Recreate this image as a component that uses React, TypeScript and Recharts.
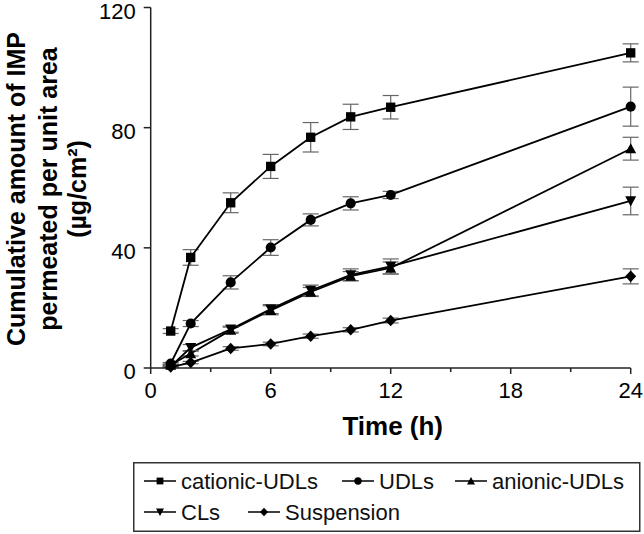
import React from 'react';
import { ComposedChart, Line, XAxis, YAxis, ErrorBar } from 'recharts';

// sampling times (h)
const times = [1, 2, 4, 6, 8, 10, 12, 24];

// cumulative amount (µg/cm²) and SD
const cationicUDLs = [12.3, 36.8, 55.0, 67.1, 76.8, 83.6, 86.8, 104.9];
const cationicErr = [0.8, 2.6, 3.3, 4.0, 4.9, 4.2, 3.9, 3.0];
const udls = [1.5, 14.8, 28.5, 40.1, 49.3, 54.8, 57.6, 87.0];
const udlsErr = [0.3, 1.0, 2.2, 2.6, 2.0, 2.2, 1.2, 6.5];
const anionicUDLs = [1.0, 4.8, 12.6, 19.2, 25.3, 30.6, 33.3, 73.0];
const anionicErr = [0.3, 0.8, 1.0, 1.5, 1.5, 1.5, 2.0, 3.8];
const cls = [0.5, 6.8, 12.9, 19.6, 25.8, 31.0, 33.8, 55.6];
const clsErr = [0.3, 1.0, 1.0, 1.5, 1.8, 2.0, 2.5, 4.6];
const suspension = [0.3, 1.8, 6.5, 8.0, 10.6, 12.7, 15.8, 30.5];
const suspensionErr = [0.2, 0.4, 0.6, 0.6, 0.7, 0.7, 0.8, 2.5];

const xTicks = [0, 3, 6, 9, 12, 15, 18, 21, 24];
const xLabelled = [0, 6, 12, 18, 24];
const yTicks = [0, 40, 80, 120];

const seriesNames = ['cationic-UDLs', 'UDLs', 'anionic-UDLs', 'CLs', 'Suspension'];

const data = times.map((t, i) => ({
  t,
  cat: cationicUDLs[i],
  catErr: cationicErr[i],
  udl: udls[i],
  udlErr: udlsErr[i],
  ani: anionicUDLs[i],
  aniErr: anionicErr[i],
  cl: cls[i],
  clErr: clsErr[i],
  sus: suspension[i],
  susErr: suspensionErr[i],
}));

const FONT = '"Liberation Sans", Arial, Helvetica, sans-serif';
const AXIS = '#222';

type Shape = 'square' | 'circle' | 'up' | 'down' | 'diamond';

function Marker({ shape, cx, cy, s }: { shape: Shape; cx: number; cy: number; s: number }) {
  const h = s / 2;
  switch (shape) {
    case 'square':
      return <rect x={cx - h * 0.85} y={cy - h * 0.85} width={s * 0.85} height={s * 0.85} fill="#000" />;
    case 'circle':
      return <circle cx={cx} cy={cy} r={h * 0.92} fill="#000" />;
    case 'up':
      return <polygon points={`${cx},${cy - h} ${cx + h},${cy + h * 0.85} ${cx - h},${cy + h * 0.85}`} fill="#000" />;
    case 'down':
      return <polygon points={`${cx},${cy + h} ${cx + h},${cy - h * 0.85} ${cx - h},${cy - h * 0.85}`} fill="#000" />;
    default:
      return <polygon points={`${cx},${cy - h * 1.05} ${cx + h},${cy} ${cx},${cy + h * 1.05} ${cx - h},${cy}`} fill="#000" />;
  }
}

const dotFor = (shape: Shape) => (p: any) =>
  <Marker key={`${shape}-${p.index}`} shape={shape} cx={p.cx} cy={p.cy} s={11} />;

function XTick({ x, y, payload }: any) {
  const major = xLabelled.includes(payload.value);
  return (
    <g>
      <line x1={x} x2={x} y1={y} y2={y + (major ? 6 : 4)} stroke={AXIS} strokeWidth={1.5} />
      {major && (
        <text x={x} y={y + 30} textAnchor="middle" fontSize={22} fontFamily={FONT} fill="#000">
          {payload.value}
        </text>
      )}
    </g>
  );
}

function YTick({ x, y, payload }: any) {
  return (
    <text x={x} y={y + 11} textAnchor="end" fontSize={22} fontFamily={FONT} fill="#000">
      {payload.value}
    </text>
  );
}

const shapes: Shape[] = ['square', 'circle', 'up', 'down', 'diamond'];
const legendRows = [[0, 1, 2], [3, 4]];
const legendIconX = [[144, 342, 455], [144, 248]];
const legendRowY = [481, 512];

// legend drawn in svg space so it shares the chart's coordinates
function LegendBox() {
  return (
    <g>
      <rect x={133.75} y={462.75} width={506} height={68.5} fill="none" stroke="#333" strokeWidth={1.5} />
      {legendRows.map((row, r) =>
        row.map((si, c) => {
          const x0 = legendIconX[r][c];
          const cy = legendRowY[r];
          return (
            <g key={si}>
              <line x1={x0} x2={x0 + 32} y1={cy} y2={cy} stroke="#000" strokeWidth={1.5} />
              <Marker shape={shapes[si]} cx={x0 + 16} cy={cy} s={8} />
              <text x={x0 + 37} y={cy + 8} fontSize={22} fontFamily={FONT} fill="#111">
                {seriesNames[si]}
              </text>
            </g>
          );
        })
      )}
    </g>
  );
}

function XTitle(props: any) {
  const vb = props.viewBox || { x: 150.7, y: 368, width: 480 };
  return (
    <g>
      <text x={vb.x + vb.width / 2 + 2} y={vb.y + 67} textAnchor="middle" fontSize={26}
        fontWeight="bold" fontFamily={FONT} fill="#000">
        Time (h)
      </text>
      <LegendBox />
    </g>
  );
}

function YTitle() {
  const cy = 189;
  const lines = ['Cumulative amount of IMP', 'permeated per unit area', '(µg/cm²)'];
  const base = [25, 57, 86];
  return (
    <g>
      {lines.map((l, i) => (
        <text key={i} transform={`translate(${base[i]},${cy}) rotate(-90)`} textAnchor="middle"
          fontSize={25} fontWeight="bold" fontFamily={FONT} fill="#000">
          {l}
        </text>
      ))}
    </g>
  );
}

const seriesKeys = [
  { key: 'cat', err: 'catErr' },
  { key: 'udl', err: 'udlErr' },
  { key: 'ani', err: 'aniErr' },
  { key: 'cl', err: 'clErr' },
  { key: 'sus', err: 'susErr' },
];

export default function App() {
  return (
    <div style={{ position: 'absolute', left: 0, top: 0, width: 644, height: 534, background: '#fff', fontFamily: FONT }}>
      <ComposedChart width={644} height={534} data={data}
        margin={{ top: 7.5, right: 13.3, bottom: 106, left: 0 }}>
        <XAxis dataKey="t" type="number" domain={[0, 24]} ticks={xTicks} interval={0}
          tickLine={false} tickSize={0} tickMargin={0} tick={<XTick />} height={60}
          axisLine={{ stroke: AXIS, strokeWidth: 1.5 }} label={{ content: XTitle }} />
        <YAxis type="number" domain={[0, 120]} ticks={yTicks} interval={0} width={150.7}
          tickSize={7} tickMargin={8} tickLine={{ stroke: AXIS, strokeWidth: 1.5 }}
          axisLine={{ stroke: AXIS, strokeWidth: 1.5 }}
          tick={<YTick />} label={{ content: YTitle }} />
        {seriesKeys.map((s, i) => (
          <Line key={s.key} dataKey={s.key} type="linear" stroke="#000" strokeWidth={1.8}
            dot={dotFor(shapes[i])} activeDot={false} isAnimationActive={false}>
            <ErrorBar dataKey={s.err} direction="y" width={8} stroke="#666" strokeWidth={1.2} />
          </Line>
        ))}
      </ComposedChart>
    </div>
  );
}
